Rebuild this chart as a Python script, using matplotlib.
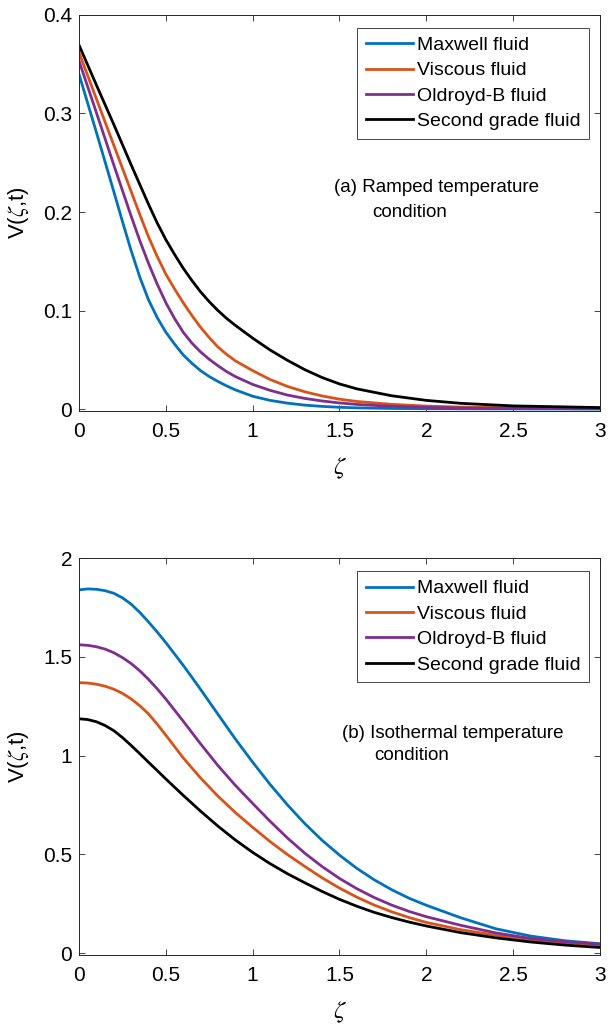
import numpy as np
import matplotlib
matplotlib.use('Agg')
import matplotlib.pyplot as plt
from matplotlib.ticker import FuncFormatter

plt.rcParams['font.family'] = ['Liberation Sans', 'DejaVu Sans']
plt.rcParams['mathtext.fontset'] = 'stix'

labels = ['Maxwell fluid', 'Viscous fluid', 'Oldroyd-B fluid', 'Second grade fluid']
colors = ['#0072BD', '#D95319', '#7E2F8E', '#000000']

# (a) ramped temperature
zeta_a = [0, 0.1, 0.2, 0.25, 0.3, 0.35, 0.4, 0.45, 0.5, 0.55, 0.6, 0.65, 0.7, 0.75,
          0.8, 0.85, 0.9, 1.0, 1.1, 1.2, 1.3, 1.4, 1.5, 1.6, 1.8, 2.0, 2.2, 2.5, 3.0]
maxwell_a = [0.340, 0.281, 0.221, 0.1905, 0.161, 0.134, 0.111, 0.093, 0.078, 0.066,
             0.055, 0.0465, 0.039, 0.033, 0.028, 0.0235, 0.0195, 0.013, 0.0088,
             0.006, 0.004, 0.0027, 0.0018, 0.0012, 0.0006, 0.0003, 0.0002, 0.0001, 0.0]
viscous_a = [0.362, 0.315, 0.268, 0.2445, 0.221, 0.1975, 0.175, 0.155, 0.137, 0.122,
             0.108, 0.095, 0.083, 0.0725, 0.063, 0.0555, 0.049, 0.039, 0.030, 0.023,
             0.0175, 0.0133, 0.010, 0.0077, 0.0048, 0.003, 0.002, 0.0013, 0.0006]
oldroyd_a = [0.3535, 0.301, 0.248, 0.222, 0.196, 0.171, 0.148, 0.127, 0.108, 0.092,
             0.078, 0.067, 0.058, 0.0505, 0.044, 0.038, 0.033, 0.025, 0.019, 0.0142,
             0.0108, 0.0082, 0.0062, 0.0047, 0.0028, 0.0017, 0.0011, 0.0006, 0.0003]
second_a = [0.3695, 0.329, 0.289, 0.2685, 0.248, 0.228, 0.208, 0.189, 0.172, 0.157,
            0.143, 0.1305, 0.119, 0.109, 0.100, 0.092, 0.085, 0.072, 0.060, 0.0495,
            0.040, 0.032, 0.0255, 0.0205, 0.0135, 0.0088, 0.0058, 0.0032, 0.0015]

# (b) isothermal temperature
zeta_b = [0, 0.05, 0.1, 0.15, 0.2, 0.25, 0.3, 0.35, 0.4, 0.45, 0.5, 0.6, 0.7, 0.8,
          0.9, 1.0, 1.1, 1.2, 1.3, 1.4, 1.5, 1.6, 1.7, 1.8, 1.9, 2.0, 2.2, 2.4, 2.6,
          2.8, 3.0]
maxwell_b = [1.840, 1.845, 1.843, 1.836, 1.823, 1.800, 1.768, 1.726, 1.678, 1.627,
             1.573, 1.458, 1.336, 1.210, 1.085, 0.967, 0.855, 0.751, 0.656, 0.571,
             0.496, 0.429, 0.371, 0.321, 0.278, 0.242, 0.178, 0.123, 0.086, 0.062, 0.047]
viscous_b = [1.370, 1.368, 1.362, 1.352, 1.337, 1.316, 1.288, 1.253, 1.212, 1.160,
             1.104, 0.989, 0.887, 0.795, 0.712, 0.637, 0.565, 0.499, 0.439, 0.381,
             0.329, 0.283, 0.243, 0.209, 0.180, 0.155, 0.118, 0.090, 0.068, 0.052, 0.040]
oldroyd_b = [1.562, 1.559, 1.552, 1.540, 1.522, 1.497, 1.467, 1.430, 1.387, 1.339,
             1.287, 1.175, 1.060, 0.950, 0.850, 0.758, 0.668, 0.583, 0.506, 0.438,
             0.378, 0.326, 0.281, 0.243, 0.211, 0.184, 0.140, 0.102, 0.074, 0.057, 0.045]
second_b = [1.187, 1.183, 1.172, 1.153, 1.127, 1.092, 1.052, 1.010, 0.967, 0.925,
            0.882, 0.799, 0.719, 0.643, 0.573, 0.510, 0.453, 0.402, 0.356, 0.312,
            0.272, 0.237, 0.206, 0.180, 0.157, 0.137, 0.103, 0.077, 0.056, 0.040, 0.028]

x_ticks = [0, 0.5, 1, 1.5, 2, 2.5, 3]
yticks_a = [0, 0.1, 0.2, 0.3, 0.4]
yticks_b = [0, 0.5, 1, 1.5, 2]

fig = plt.figure(figsize=(6.09, 10.25), dpi=100)
ax1 = fig.add_axes([0.1297, 0.5990, 0.8555, 0.3864])
ax2 = fig.add_axes([0.1297, 0.0683, 0.8555, 0.3870])

axcol = '#262626'
fmt = FuncFormatter(lambda v, p: '%g' % v)

panels = [
    (ax1, zeta_a, [maxwell_a, viscous_a, oldroyd_a, second_a], yticks_a, (-0.002, 0.4),
     ['(a) Ramped temperature', 'condition'], [(1.466, 0.225), (1.69, 0.199)]),
    (ax2, zeta_b, [maxwell_b, viscous_b, oldroyd_b, second_b], yticks_b, (-0.01, 2.0),
     ['(b) Isothermal temperature', 'condition'], [(1.517, 1.11), (1.70, 1.0)]),
]

for ax, z, series, yt, ylim, notes, note_pos in panels:
    for vals, lab, c in zip(series, labels, colors):
        ax.plot(z, vals, color=c, lw=2.0, label=lab)
    ax.set_xlim(0, 3)
    ax.set_ylim(*ylim)
    ax.set_xticks(x_ticks)
    ax.set_yticks(yt)
    ax.xaxis.set_major_formatter(fmt)
    ax.yaxis.set_major_formatter(fmt)
    ax.tick_params(direction='in', top=True, right=True, length=4.3, width=0.6,
                   labelsize=15, colors=axcol, labelcolor='black')
    ax.tick_params(axis='x', pad=8)
    ax.tick_params(axis='y', pad=5)
    for s in ax.spines.values():
        s.set_color(axcol)
        s.set_linewidth(0.7)
    ax.set_xlabel(r'$\zeta$', fontsize=18)
    ax.xaxis.set_label_coords(0.5, -0.112)
    ax.set_ylabel(r'V($\zeta$,t)', fontsize=16)
    ax.yaxis.set_label_coords(-0.092, 0.5)
    leg = ax.legend(loc='upper right', bbox_to_anchor=(0.979, 0.968), borderaxespad=0,
                    fontsize=14, handlelength=2.4, handletextpad=0.2, labelspacing=0.4,
                    borderpad=0.45, fancybox=False, framealpha=1, edgecolor=axcol)
    leg.get_frame().set_linewidth(0.6)
    for txt, (nx, ny) in zip(notes, note_pos):
        ax.text(nx, ny, txt, fontsize=13.5, va='center', ha='left')

fig.savefig('out.png', dpi=100)
